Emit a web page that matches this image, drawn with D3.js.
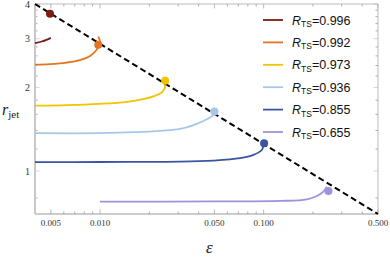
<!DOCTYPE html>
<html>
<head>
<meta charset="utf-8">
<script src="https://cdn.jsdelivr.net/npm/d3@7"></script>
<style>
  body { margin: 0; background: #fff; }
  svg { display: block; }
</style>
</head>
<body>
<svg class="rjet" width="390" height="258"></svg>
<script>
// R_TS values shown in the legend
const rtsLabels = ['0.996', '0.992', '0.973', '0.936', '0.855', '0.655'];
const rtsColors = ['#7d1c12', '#e5731f', '#f1c400', '#a7c7ea', '#3c54a2', '#9c93da'];

// curves, [epsilon, r_jet]
const curve996 = [[0.004, 2.89], [0.0044, 2.93], [0.0047, 2.97], [0.005, 3.02]];
const curve992 = [[0.004, 2.42], [0.00494, 2.43], [0.00625, 2.46], [0.00753, 2.51],
                  [0.00869, 2.60], [0.00945, 2.72], [0.0099, 2.86], [0.00995, 2.96], [0.00975, 3.05]];
const curve973 = [[0.004, 1.72], [0.00625, 1.728], [0.00997, 1.747], [0.01459, 1.776],
                  [0.01829, 1.816], [0.02165, 1.867], [0.02379, 1.919], [0.02486, 1.991], [0.0249, 2.05]];
const curve936 = [[0.004, 1.369], [0.00997, 1.369], [0.01613, 1.38], [0.0308, 1.419],
                  [0.039, 1.479], [0.0449, 1.536], [0.0493, 1.594], [0.0500, 1.63]];
const curve855 = [[0.004, 1.076], [0.00997, 1.078], [0.0308, 1.0805], [0.0493, 1.09],
                  [0.0718, 1.112], [0.0865, 1.143], [0.0974, 1.191], [0.0996, 1.232], [0.1003, 1.255]];
const curve655 = [[0.01, 0.7755], [0.05, 0.777], [0.126, 0.780], [0.1836, 0.791],
                  [0.2114, 0.813], [0.2319, 0.8425], [0.2433, 0.878]];
const curves = [curve996, curve992, curve973, curve936, curve855, curve655];

// end points (dots)
const dots = [[0.00494, 3.69], [0.00974, 2.85], [0.025, 2.115], [0.05, 1.639], [0.1006, 1.258], [0.2488, 0.847]];

// dashed boundary line
const boundary = [[0.004, 4], [0.5, 0.7]];

const xMajor = [0.005, 0.01, 0.05, 0.1, 0.5];
const xMinor = [0.006, 0.007, 0.008, 0.009, 0.02, 0.03, 0.04, 0.06, 0.07, 0.08, 0.09, 0.2, 0.3, 0.4];
const yMajor = [1, 2, 3, 4];
const yMinor = [0.8, 1.2, 1.4, 1.6, 1.8, 2.2, 2.4, 2.6, 2.8, 3.2, 3.4, 3.6, 3.8];

function drawChart(){
  const svg = d3.select('svg.rjet');
  const left = 35, right = 378, top = 4, bottom = 214;

  const x = d3.scaleLog().domain([0.004, 0.5]).range([left, right]);
  const y = d3.scaleLog().domain([0.7, 4]).range([bottom, top]);

  const frame = svg.append('g').attr('class', 'frame');

  // ticks, pointing inwards on all four sides
  function ticksX(vals, len, col){
    vals.forEach(v => {
      frame.append('line')
        .attr('x1', x(v)).attr('x2', x(v))
        .attr('y1', bottom).attr('y2', bottom - len)
        .style('stroke', col).style('stroke-width', 0.8);
      frame.append('line')
        .attr('x1', x(v)).attr('x2', x(v))
        .attr('y1', top).attr('y2', top + len)
        .style('stroke', col).style('stroke-width', 0.8);
    });
  }
  function ticksY(vals, len, col){
    vals.forEach(v => {
      frame.append('line')
        .attr('x1', left).attr('x2', left + len)
        .attr('y1', y(v)).attr('y2', y(v))
        .style('stroke', col).style('stroke-width', 0.8);
      frame.append('line')
        .attr('x1', right).attr('x2', right - len)
        .attr('y1', y(v)).attr('y2', y(v))
        .style('stroke', col).style('stroke-width', 0.8);
    });
  }
  ticksX(xMinor, 2.5, '#999');
  ticksX(xMajor, 4.5, '#aaa');
  ticksY(yMinor, 2.5, '#999');
  ticksY(yMajor, 4.5, '#ccc');

  // frame lines
  frame.append('line').attr('x1', left).attr('x2', right).attr('y1', top).attr('y2', top)
    .style('stroke', '#aaa').style('stroke-width', 0.8);
  frame.append('line').attr('x1', right).attr('x2', right).attr('y1', top).attr('y2', bottom)
    .style('stroke', '#aaa').style('stroke-width', 0.8);
  frame.append('line').attr('x1', left).attr('x2', right).attr('y1', bottom).attr('y2', bottom)
    .style('stroke', '#999').style('stroke-width', 1);
  frame.append('line').attr('x1', left).attr('x2', left).attr('y1', top).attr('y2', bottom)
    .style('stroke', '#c8c8c8').style('stroke-width', 2);

  // tick labels
  const fmtX = d3.format('.3f');
  frame.selectAll('text.xlab')
    .data(xMajor)
    .enter()
    .append('text')
    .attr('class', 'xlab')
    .attr('x', d => x(d))
    .attr('y', 226)
    .text(d => fmtX(d))
    .style('text-anchor', 'middle')
    .style('font-family', "'Liberation Serif', 'DejaVu Serif', serif")
    .style('font-size', '9px')
    .style('fill', '#333');

  frame.selectAll('text.ylab')
    .data(yMajor)
    .enter()
    .append('text')
    .attr('class', 'ylab')
    .attr('x', left - 5)
    .attr('y', d => y(d) + 3.5)
    .text(d => d)
    .style('text-anchor', 'end')
    .style('font-family', "'Liberation Serif', 'DejaVu Serif', serif")
    .style('font-size', '10px')
    .style('fill', '#333');

  // axis titles
  const yTitle = svg.append('text')
    .attr('x', 2)
    .attr('y', 115)
    .style('font-family', "'Liberation Serif', 'DejaVu Serif', serif")
    .style('font-size', '16px')
    .style('fill', '#222');
  yTitle.append('tspan').style('font-style', 'italic').text('r');
  yTitle.append('tspan').attr('dy', 3).style('font-size', '11px').text('jet');

  svg.append('text')
    .attr('x', 206)
    .attr('y', 253)
    .text('ε')
    .style('font-family', "'Liberation Serif', 'DejaVu Serif', serif")
    .style('font-style', 'italic')
    .style('font-size', '17px')
    .style('fill', '#222');

  const line = d3.line()
    .x(d => x(d[0]))
    .y(d => y(d[1]));

  // curves
  const curveLine = d3.line()
    .x(d => x(d[0]))
    .y(d => y(d[1]))
    .curve(d3.curveCatmullRom.alpha(0.5));

  svg.append('g')
    .attr('class', 'curves')
    .selectAll('path')
    .data(curves)
    .enter()
    .append('path')
    .attr('d', d => curveLine(d))
    .style('fill', 'none')
    .style('stroke', (d, i) => rtsColors[i])
    .style('stroke-width', 1.8);

  // dashed boundary
  svg.append('path')
    .attr('d', line(boundary))
    .style('fill', 'none')
    .style('stroke', '#000')
    .style('stroke-width', 2)
    .style('stroke-dasharray', '6,3.5');

  // dots sit on top of the dashed line
  svg.append('g')
    .attr('class', 'dots')
    .selectAll('circle')
    .data(dots)
    .enter()
    .append('circle')
    .attr('cx', d => x(d[0]))
    .attr('cy', d => y(d[1]))
    .attr('r', 4)
    .style('fill', (d, i) => rtsColors[i]);

  // legend
  const legend = svg.append('g')
    .attr('class', 'legend')
    .attr('transform', 'translate(263, 20)');

  const items = legend.selectAll('g.item')
    .data(rtsLabels)
    .enter()
    .append('g')
    .attr('class', 'item')
    .attr('transform', (d, i) => `translate(0, ${i * 22.4})`);

  items.append('line')
    .attr('x1', 0).attr('x2', 20)
    .attr('y1', 0).attr('y2', 0)
    .style('stroke', (d, i) => rtsColors[i])
    .style('stroke-width', 1.8);

  const lt = items.append('text')
    .attr('x', 29)
    .attr('y', 4.5)
    .style('font-family', "'Liberation Sans', Arial, sans-serif")
    .style('font-size', '12.5px')
    .style('fill', '#111');
  lt.append('tspan').style('font-style', 'italic').text('R');
  lt.append('tspan').attr('dy', 2.5).style('font-size', '8.5px').text('TS');
  lt.append('tspan').attr('dy', -2.5).text(d => '=' + d);
}

drawChart();
</script>
</body>
</html>
